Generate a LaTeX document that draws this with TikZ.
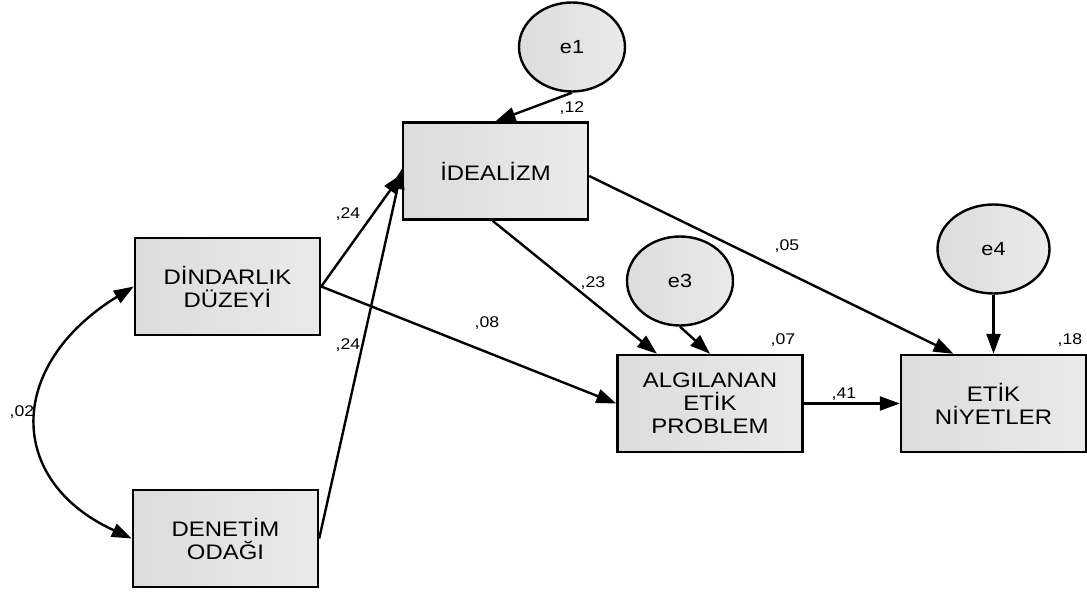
\documentclass[tikz,border=0pt]{standalone}
\usepackage{fontspec}
\setmainfont{Liberation Sans}[FakeStretch=1.14]
\usetikzlibrary{arrows.meta,shapes.geometric}
\begin{document}
\begin{tikzpicture}[x=1pt,y=-1pt,
  boxnode/.style={draw=black,line width=2.4pt,left color={rgb,255:red,220;green,220;blue,220},right color={rgb,255:red,234;green,234;blue,234},
    minimum width=185pt,minimum height=97pt,inner sep=0pt,align=center,font=\fontsize{21}{23}\selectfont},
  errnode/.style={draw=black,line width=2.4pt,ellipse,left color={rgb,255:red,220;green,220;blue,220},right color={rgb,255:red,234;green,234;blue,234},
    minimum width=106pt,minimum height=89pt,inner sep=0pt,font=\fontsize{19}{21}\selectfont},
  path/.style={line width=2.4pt,-{Triangle[length=20pt,width=14pt]}},
  cov/.style={line width=2.4pt,{Triangle[length=20pt,width=14pt]}-{Triangle[length=20pt,width=14pt]}},
  coef/.style={font=\fontsize{15.5}{17}\selectfont,inner sep=0pt}]
\useasboundingbox (0,0) rectangle (1087,593);
\fill[white] (0,0) rectangle (1087,593);
% nodes
\node[boxnode] (ideal) at (495.5,171) {İDEALİZM};
\node[boxnode] (dind) at (227.5,286.5) {DİNDARLIK\\DÜZEYİ};
\node[boxnode] (den) at (225.5,538.5) {DENETİM\\ODAĞI};
\node[boxnode] (alg) at (710,403.5) {ALGILANAN\\ETİK\\PROBLEM};
\node[boxnode] (etik) at (993.5,403.5) {ETİK\\NİYETLER};
\node[errnode] (e1) at (572,47) {e1};
\node[errnode] (e3) at (680,281) {e3};
\node[errnode,minimum width=112pt] (e4) at (993.5,249) {e4};
% connectors
\draw[path] (e1.south) -- (ideal.north);
\draw[path] (dind.east) -- ([yshift=-3pt]ideal.west);
\draw[path] (den.east) -- ([yshift=2pt]ideal.west);
\draw[path] (dind.east) -- (alg.west);
\draw[path] ([xshift=-3pt]ideal.south) -- ([xshift=-53pt]alg.north);
\draw[path] (e3.south) -- (alg.north);
\draw[path] ([yshift=-5pt]ideal.east) -- ([xshift=-40pt]etik.north);
\draw[path] (e4.south) -- (etik.north);
\draw[path] (alg.east) -- (etik.west);
\draw[cov] (dind.west) .. controls (6,365) and (6,481) .. (den.west);
% coefficients
\node[coef] (c1) at (572,108) {,12};
\node[coef] (c2) at (348,214) {,24};
\node[coef] (c3) at (348,345) {,24};
\node[coef] (c4) at (487,323) {,08};
\node[coef] (c5) at (593,283) {,23};
\node[coef] (c6) at (787,246) {,05};
\node[coef] (c7) at (783,340) {,07};
\node[coef] (c8) at (1070,340) {,18};
\node[coef] (c9) at (844,394) {,41};
\node[coef] (c10) at (22,412) {,02};
\end{tikzpicture}
\end{document}
